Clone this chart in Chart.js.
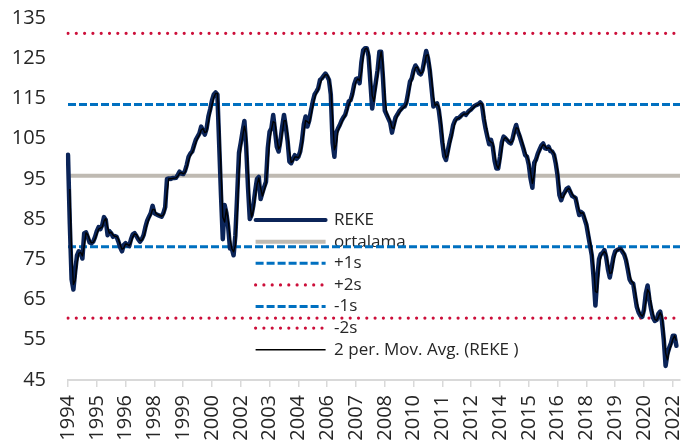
<!DOCTYPE html>
<html>
<head>
<meta charset="utf-8">
<script src="https://cdn.jsdelivr.net/npm/chart.js@4/dist/chart.umd.min.js"></script>
<style>
  html, body { margin: 0; padding: 0; background: #ffffff; }
  #wrap { width: 681px; height: 442px; position: relative; }
</style>
</head>
<body>
<div id="wrap"><canvas id="c"></canvas></div>
<script>
// ---- data ----
const startYear = 1994;
const monthCount = 341; // Jan 1994 .. May 2022 (axis extent)
const categories = [];
for (let i = 0; i < monthCount; i++) {
  const y = startYear + Math.floor(i / 12);
  const m = (i % 12) + 1;
  categories.push(y + '-' + (m < 10 ? '0' + m : m));
}
const tickLabels = ['1994','1995','1996','1998','1999','2000','2002','2003','2004','2006','2007',
  '2008','2010','2011','2012','2014','2015','2016','2018','2019','2020','2022'];
const tickEvery = 16;

const reke = [
  101, 84, 70, 67.5, 72, 76, 77, 76.5, 75.2, 81.5,
  81.7, 80.5, 79.2, 79, 79.4, 80.5, 82, 83, 82.5, 83.5,
  85.5, 84.8, 81, 82, 81.5, 80.6, 80.8, 80.6, 79.4, 78,
  77, 78.6, 79, 78.5, 78.3, 80, 81.2, 81.5, 80.8, 80,
  79.4, 80, 81, 83, 84.6, 85.6, 86.5, 88.3, 86.5, 86.2,
  86, 85.8, 85.6, 86.5, 88, 95, 95.1, 95, 95.2, 95.2,
  95.3, 96, 96.8, 96.3, 96.2, 97, 98.5, 100.5, 101.3, 101.8,
  103.3, 104.7, 105.5, 106.3, 108, 107, 106, 107.5, 110.5, 112.3,
  114.5, 116, 116.5, 116, 103.5, 91, 80, 88.5, 86.5, 83,
  77.7, 77.7, 76, 81, 91, 101.5, 104, 106.8, 109.4, 103,
  93, 85, 86, 88.5, 92, 95, 95.5, 90, 91.5, 93,
  94.3, 102.6, 106.7, 107.6, 110.9, 107, 103, 101.8, 104.5, 108,
  110.9, 108, 104.5, 99.3, 98.9, 100, 100.9, 100, 100.5, 101.8,
  104.5, 108.5, 110.5, 108, 109.5, 112, 114.2, 116, 116.7, 117.5,
  119.6, 120, 120.6, 121.2, 120.5, 119.6, 116, 104, 100.5, 106.5,
  107.5, 108.4, 109.5, 110.3, 110.9, 112.5, 114.3, 114.6, 116.2, 118.5,
  119.8, 120, 118.8, 124, 127, 127.5, 127.5, 125.5, 119, 112.5,
  116, 119, 122, 126.6, 126.6, 120, 112, 111, 110, 109,
  106.5, 108.5, 110.3, 111, 111.8, 112.3, 112.8, 113, 114, 116.5,
  119.2, 120, 122, 123.2, 122.5, 121.3, 121, 122.1, 124.5, 126.8,
  125, 122, 117.5, 113, 113.5, 113.8, 112.1, 108.5, 104, 100.7,
  99.7, 102, 104.2, 106, 108.4, 109.5, 110.1, 110.1, 110.5, 111,
  111.3, 110.9, 111.5, 112, 112.3, 112.8, 113.2, 113.4, 113.6, 114,
  113.4, 110, 107.5, 105.5, 103.6, 104.7, 103, 99.5, 97.6, 97.6,
  100.5, 104, 105.5, 105.1, 104.6, 104.1, 103.8, 105, 107, 108.4,
  106.7, 105.5, 104, 102.6, 100.9, 100.5, 98.5, 95, 92.8, 99,
  99.8, 101.3, 102.3, 103.3, 103.8, 102.6, 102.5, 103, 101.9, 101.8,
  101, 98.8, 95.8, 91, 89.7, 91, 91.7, 92.5, 92.8, 91.8,
  90.8, 90.5, 90.2, 88, 86, 86.8, 86.4, 85, 83.6, 81,
  78.5, 76, 70.5, 63.5, 70, 75, 76.3, 76.6, 77.3, 75.5,
  72.5, 70.5, 72.8, 75.5, 77, 77.3, 77.5, 77.6, 76.9, 76.2,
  74.8, 72.5, 70, 69.2, 69, 66, 63.2, 61.8, 61, 60.7,
  62.5, 66.5, 68.5, 65, 62.5, 60.5, 59.7, 59.9, 61.5, 62,
  59.5, 55, 48.5, 51.5, 53, 54.2, 56, 56, 53.5
];

const meanValue = 95.8;
const plus1s = 113.5;
const plus2s = 131.2;
const minus1s = 78.1;
const minus2s = 60.4;

const yTicks = { min: 45, max: 135, step: 10 };

// 2-period moving average of REKE (as in the Excel trendline)
const movAvg2 = reke.map((v, i) => i === 0 ? null : (reke[i - 1] + v) / 2);

// ---- styling ----
const NAVY = '#0b2458';
const GRAY = '#bfbab2';
const BLUE = '#0070c0';
const RED = '#cc0f3a';
const TXT = '#262626';

const first = categories[0];
const last = categories[categories.length - 1];
const hline = (v) => [{ x: first, y: v }, { x: last, y: v }];

Chart.defaults.font.family = "'Open Sans', 'Noto Sans', sans-serif";
Chart.defaults.color = TXT;

const LEGEND_X = 251;
const LEGEND_Y = 207;

const legendMover = {
  id: 'legendMover',
  afterLayout(chart) {
    const lg = chart.legend;
    if (!lg) return;
    const w = lg.width;
    lg.left = LEGEND_X;
    lg.top = LEGEND_Y;
    lg.right = LEGEND_X + w + 40;
    lg.bottom = LEGEND_Y + 400;
  }
};

new Chart(document.getElementById('c'), {
  type: 'line',
  data: {
    labels: categories,
    datasets: [
      { label: 'REKE', data: reke, borderColor: NAVY, backgroundColor: NAVY, borderWidth: 4.5,
        legendWidth: 4, pointRadius: 0, tension: 0, borderJoinStyle: 'round', borderCapStyle: 'round', order: 1 },
      { label: 'ortalama', data: hline(meanValue), borderColor: GRAY, backgroundColor: GRAY, borderWidth: 4,
        pointRadius: 0, order: 3 },
      { label: '+1s', data: hline(plus1s), borderColor: BLUE, backgroundColor: BLUE, borderWidth: 3,
        borderDash: [8, 3], pointRadius: 0, order: 2 },
      { label: '+2s', data: hline(plus2s), borderColor: RED, backgroundColor: RED, borderWidth: 3.2,
        borderDash: [0, 8.3], borderCapStyle: 'round', pointRadius: 0, order: 2 },
      { label: '-1s', data: hline(minus1s), borderColor: BLUE, backgroundColor: BLUE, borderWidth: 3,
        borderDash: [8, 3], pointRadius: 0, order: 2 },
      { label: '-2s', data: hline(minus2s), borderColor: RED, backgroundColor: RED, borderWidth: 3.2,
        borderDash: [0, 8.3], borderCapStyle: 'round', pointRadius: 0, order: 2 },
      { label: '2 per. Mov. Avg. (REKE )', data: movAvg2, borderColor: '#000000', backgroundColor: '#000000',
        borderWidth: 1.4, pointRadius: 0, tension: 0, borderJoinStyle: 'round', order: 0 }
    ]
  },
  options: {
    responsive: true,
    maintainAspectRatio: false,
    devicePixelRatio: 1,
    animation: false,
    events: [],
    layout: { padding: { top: 18, right: 1, bottom: 0, left: 0 } },
    scales: {
      x: {
        type: 'category',
        offset: false,
        afterBuildTicks: (scale) => {
          scale.ticks = scale.ticks.filter(t => t.value % tickEvery === 0);
        },
        afterFit: (scale) => {
          scale.height = 62;
          scale.paddingLeft = 0;
          scale.paddingRight = 0;
        },
        grid: { display: true, drawOnChartArea: false, drawTicks: true, tickLength: 7,
                color: '#d9d9d9', lineWidth: 1.5 },
        border: { display: true, color: '#d9d9d9', width: 2 },
        ticks: {
          autoSkip: false, minRotation: 90, maxRotation: 90, padding: 8,
          font: { size: 20 }, color: TXT,
          callback: (value) => tickLabels[Math.round(value / tickEvery)]
        }
      },
      y: {
        min: yTicks.min, max: yTicks.max,
        afterFit: (scale) => {
          scale.width = 68;
          scale.paddingTop = 0;
          scale.paddingBottom = 0;
        },
        grid: { display: false, drawTicks: false },
        border: { display: false },
        ticks: { stepSize: yTicks.step, padding: 22, font: { size: 20 }, color: TXT }
      }
    },
    plugins: {
      tooltip: { enabled: false },
      legend: {
        display: true,
        position: 'chartArea',
        align: 'start',
        labels: {
          usePointStyle: true,
          pointStyleWidth: 70,
          padding: 4.6,
          color: TXT,
          font: { size: 17 },
          sort: (a, b) => a.datasetIndex - b.datasetIndex,
          generateLabels: (chart) => chart.data.datasets.map((ds, i) => ({
            text: ds.label,
            fillStyle: ds.borderColor,
            strokeStyle: ds.borderColor,
            lineWidth: ds.legendWidth || ds.borderWidth,
            lineDash: ds.borderDash || [],
            lineDashOffset: 0,
            lineCap: ds.borderCapStyle || 'butt',
            lineJoin: 'miter',
            pointStyle: 'line',
            rotation: 0,
            hidden: false,
            fontColor: TXT,
            textAlign: 'left',
            datasetIndex: i
          }))
        }
      }
    }
  },
  plugins: [legendMover]
});
</script>
</body>
</html>
